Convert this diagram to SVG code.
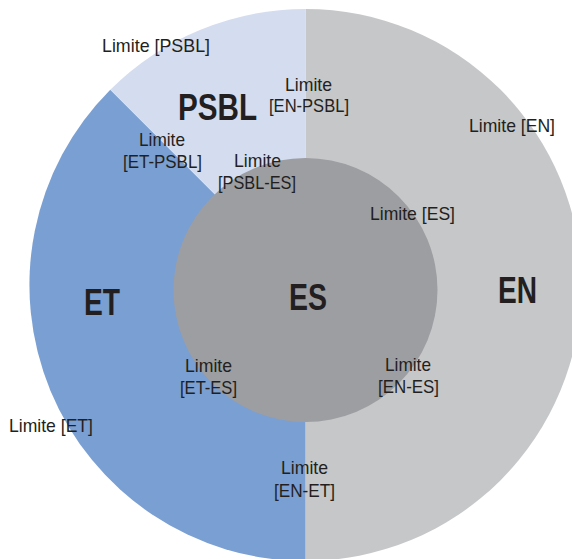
<svg xmlns="http://www.w3.org/2000/svg" width="572" height="559" viewBox="0 0 572 559">
  <style>
    .lbl { font-family: "Liberation Sans", Arial, sans-serif; font-size: 19px; fill: #231f20; text-anchor: middle; }
    .big { font-family: "Liberation Sans", Arial, sans-serif; font-size: 37px; font-weight: bold; fill: #231f20; text-anchor: middle; }
  </style>
  <rect width="572" height="559" fill="#ffffff"/>
  <g id="EN">
    <path d="M305.5 9 A276 276 0 0 1 305.5 561 Z" fill="#c6c7c9"/>
    <text class="big" x="517.5" y="303" textLength="39" lengthAdjust="spacingAndGlyphs">EN</text>
  </g>
  <g id="ET">
    <path d="M305.5 285 L305.5 561 A276 276 0 0 1 110.3 89.8 Z" fill="#7a9fd2"/>
    <text class="big" x="102" y="315" textLength="36" lengthAdjust="spacingAndGlyphs">ET</text>
  </g>
  <g id="PSBL">
    <path d="M305.5 285 L110.3 89.8 A276 276 0 0 1 305.5 9 Z" fill="#d4dcef"/>
    <text class="big" x="217.5" y="119.5" textLength="79" lengthAdjust="spacingAndGlyphs">PSBL</text>
  </g>
  <g id="ES">
    <circle cx="305.5" cy="290" r="132" fill="#9d9ea1"/>
    <text class="big" x="308" y="309.5" textLength="38" lengthAdjust="spacingAndGlyphs">ES</text>
  </g>
  <g id="connectors"/>
  <g id="labels">
    <text class="lbl" x="156" y="51.5" textLength="108" lengthAdjust="spacingAndGlyphs">Limite [PSBL]</text>
    <text class="lbl" x="308.5" y="91" textLength="47" lengthAdjust="spacingAndGlyphs">Limite</text>
    <text class="lbl" x="309" y="112" textLength="80" lengthAdjust="spacingAndGlyphs">[EN-PSBL]</text>
    <text class="lbl" x="512" y="132" textLength="86" lengthAdjust="spacingAndGlyphs">Limite [EN]</text>
    <text class="lbl" x="162" y="146" textLength="46" lengthAdjust="spacingAndGlyphs">Limite</text>
    <text class="lbl" x="162.5" y="168" textLength="79" lengthAdjust="spacingAndGlyphs">[ET-PSBL]</text>
    <text class="lbl" x="257.5" y="167" textLength="47" lengthAdjust="spacingAndGlyphs">Limite</text>
    <text class="lbl" x="257" y="189" textLength="78" lengthAdjust="spacingAndGlyphs">[PSBL-ES]</text>
    <text class="lbl" x="412.5" y="219.5" textLength="85" lengthAdjust="spacingAndGlyphs">Limite [ES]</text>
    <text class="lbl" x="208.5" y="372" textLength="47" lengthAdjust="spacingAndGlyphs">Limite</text>
    <text class="lbl" x="208.5" y="393.5" textLength="57" lengthAdjust="spacingAndGlyphs">[ET-ES]</text>
    <text class="lbl" x="408" y="371" textLength="46" lengthAdjust="spacingAndGlyphs">Limite</text>
    <text class="lbl" x="408.5" y="393" textLength="61" lengthAdjust="spacingAndGlyphs">[EN-ES]</text>
    <text class="lbl" x="51" y="431.5" textLength="84" lengthAdjust="spacingAndGlyphs">Limite [ET]</text>
    <text class="lbl" x="304.5" y="474" textLength="47" lengthAdjust="spacingAndGlyphs">Limite</text>
    <text class="lbl" x="304.5" y="496.5" textLength="61" lengthAdjust="spacingAndGlyphs">[EN-ET]</text>
  </g>
</svg>
